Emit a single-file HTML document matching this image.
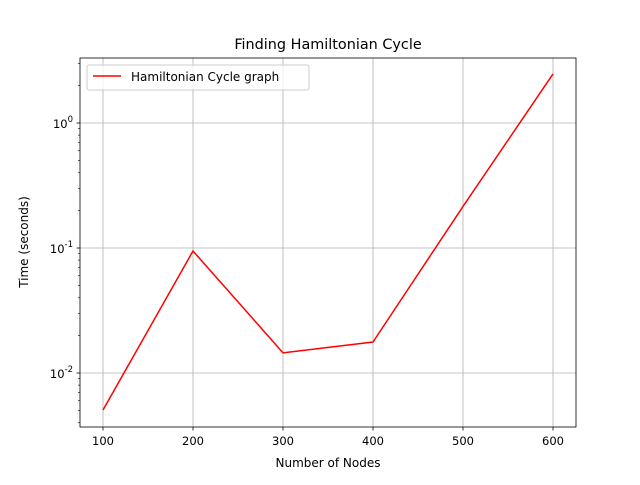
<!DOCTYPE html>
<html><head><meta charset="utf-8"><style>
body{margin:0;background:#fff}
text{font-family:"DejaVu Sans","Liberation Sans",sans-serif;fill:#000}
</style></head><body>
<svg id="chart" width="640" height="480" xmlns="http://www.w3.org/2000/svg">
<rect width="640" height="480" fill="#fff"/>
<g id="grid"></g>
<g id="ticks"></g>
<g id="series"></g>
<rect x="80" y="58" width="496" height="369" fill="none" stroke="#000" stroke-width="0.8"/>
<text x="328" y="49" font-size="14.4" text-anchor="middle">Finding Hamiltonian Cycle</text>
<text x="328" y="467" font-size="12" text-anchor="middle">Number of Nodes</text>
<text x="28" y="242" font-size="12" text-anchor="middle" transform="rotate(-90 28 242)">Time (seconds)</text>
<g>
<rect x="87" y="65" width="222" height="25" rx="2" fill="#fff" fill-opacity="0.8" stroke="#ccc"/>
<line x1="93" y1="76" x2="121" y2="76" stroke="red" stroke-width="1.5"/>
<text x="131" y="81" font-size="12">Hamiltonian Cycle graph</text>
</g>
</svg>
<script>
const nodes=[100,200,300,400,500,600];
const times=[0.00506,0.0946,0.0145,0.0177,0.215,2.47];
const xTicks=[100,200,300,400,500,600];
const yTicks=[-2,-1,0];
const ns="http://www.w3.org/2000/svg";
const X=v=>103+(v-100)*0.9;
const Y=v=>123-Math.log10(v)*125;
const grid=document.getElementById('grid'),ticks=document.getElementById('ticks'),ser=document.getElementById('series');
function mk(tag,attrs,parent){const e=document.createElementNS(ns,tag);for(const k in attrs)e.setAttribute(k,attrs[k]);parent.appendChild(e);return e;}
xTicks.forEach(t=>{const x=X(t);
const g=mk('line',{x1:x,x2:x,y1:58,y2:427,stroke:'#b0b0b0','stroke-width':0.8},grid);


mk('line',{x1:x,x2:x,y1:427,y2:430.5,stroke:'#000','stroke-width':0.8},ticks);
const tx=mk('text',{x:x,y:445,'font-size':11.5,'text-anchor':'middle'},ticks);tx.textContent=t;


});
yTicks.forEach(p=>{const y=Y(Math.pow(10,p));
const g=mk('line',{x1:80,x2:576,y1:y,y2:y,stroke:'#b0b0b0','stroke-width':0.8},grid);


mk('line',{x1:76.5,x2:80,y1:y,y2:y,stroke:'#000','stroke-width':0.8},ticks);
const tx=mk('text',{x:73,y:y+5,'font-size':11.5,'text-anchor':'end'},ticks);
tx.innerHTML='10<tspan dy="-6" font-size="8.5">'+p+'</tspan>';


});
for(let p=-3;p<=0;p++)for(let m=2;m<=9;m++){const y=Y(m*Math.pow(10,p));if(y<58||y>427)continue;
mk('line',{x1:78,x2:80,y1:y,y2:y,stroke:'#000','stroke-width':0.6},ticks);}
const pl=mk('polyline',{points:nodes.map((n,i)=>X(n)+','+Y(times[i])).join(' '),fill:'none',stroke:'red','stroke-width':1.5},ser);


</script>
</body></html>
